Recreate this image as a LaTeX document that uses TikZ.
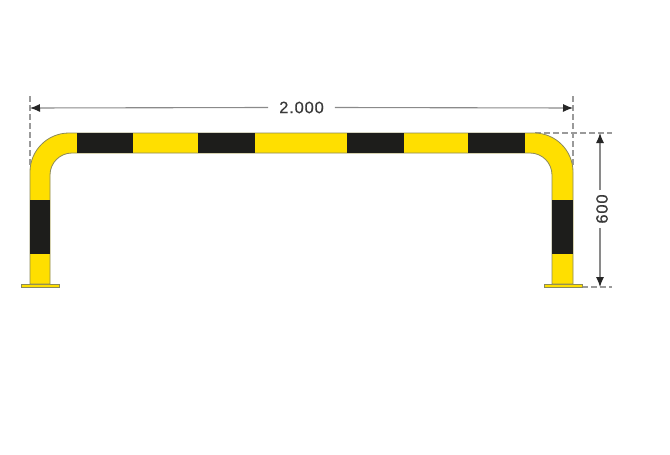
\documentclass[tikz,border=0pt]{standalone}
\usepackage{fontspec}
\setmainfont{Liberation Sans}
\usetikzlibrary{arrows.meta}
\definecolor{barY}{HTML}{FFDF00}
\definecolor{barK}{HTML}{1D1D1B}
\definecolor{edgeC}{HTML}{8C8A5A}
\definecolor{dimC}{HTML}{8A8A8A}
\definecolor{dashC}{HTML}{9A9A9A}
\definecolor{txtC}{HTML}{3A3A3A}
\tikzset{
  tube/.style={fill=barY,draw=edgeC,line width=0.8pt},
  band/.style={fill=barK,draw=none},
  plate/.style={fill=barY,draw=edgeC,line width=0.8pt},
  dimline/.style={draw=dimC,line width=1.1pt},
  dimarrow/.style={dimline,-{Latex[length=10pt,width=8pt,black!85]}},
  guide/.style={draw=dashC,line width=1.3pt,dash pattern=on 5.5pt off 3.5pt},
  dimtext/.style={text=txtC,font=\fontsize{16.5}{17}\selectfont\addfontfeature{LetterSpace=5,FakeBold=0.3},inner sep=0pt}
}
\begin{document}
\begin{tikzpicture}[x=1pt,y=-1pt]
\useasboundingbox (0,0) rectangle (670,455);
\fill[white] (0,0) rectangle (670,455);
% guides
\draw[guide] (30,96) -- (30,168);
\draw[guide] (573,96) -- (573,168);
\draw[guide] (535,133) -- (612,133);
\draw[guide] (582,287) -- (612,287);
% base plates
\draw[plate] (21,284) rectangle (59,287);
\draw[plate] (544,284) rectangle (582,287);
% tube
\draw[tube] (30,284) -- (30,172) .. controls (30,150.46) and (47.46,133) .. (69,133) -- (534,133)
  .. controls (555.54,133) and (573,150.46) .. (573,172) -- (573,284) -- (552,284) -- (552,175)
  .. controls (552,162.85) and (542.15,153) .. (530,153) -- (72,153)
  .. controls (59.85,153) and (50,162.85) .. (50,175) -- (50,284) -- cycle;
% horizontal bands
\fill[band] (77,133) rectangle (133,153);
\fill[band] (198,133) rectangle (255,153);
\fill[band] (347,133) rectangle (404,153);
\fill[band] (468,133) rectangle (525,153);
% vertical bands
\fill[band] (29.7,200) rectangle (50.3,254);
\fill[band] (552,200) rectangle (573.3,254);
% dimensions
\coordinate (dl) at (30,108);
\coordinate (dr) at (573,108);
\coordinate (dt) at (600,133);
\coordinate (db) at (600,287);
\node[dimtext] (width) at (301.5,107.5) {2.000};
\node[dimtext,rotate=90] (height) at (602,209) {600};
\path[dimarrow] ([xshift=-11pt]width.west) -- (dl);
\path[dimarrow] ([xshift=11pt]width.east) -- (dr);
\path[dimarrow] (600,190) -- (dt);
\path[dimarrow] (600,228) -- (db);
\end{tikzpicture}
\end{document}
